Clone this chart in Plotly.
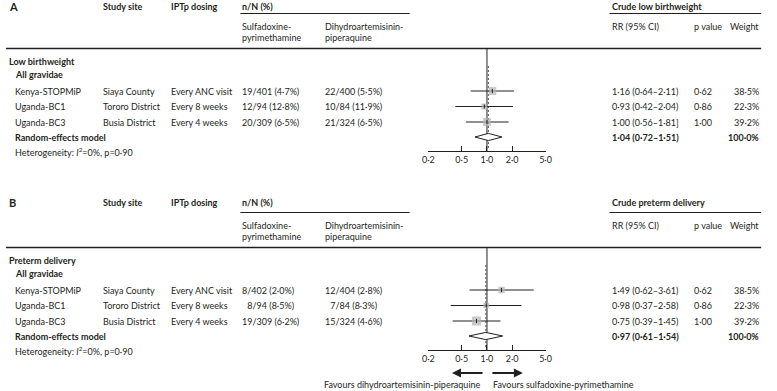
import math
import plotly.graph_objects as go

W, H = 777, 391
FONT = "Lato"
TC = "#231f20"

# ---------------- data ----------------
studies = ["Kenya-STOPMiP", "Uganda-BC1", "Uganda-BC3"]
sites = ["Siaya County", "Tororo District", "Busia District"]
dosing = ["Every ANC visit", "Every 8 weeks", "Every 4 weeks"]

# Panel A: crude low birthweight
lbw_sp = ["19/401 (4·7%)", "12/94 (12·8%)", "20/309 (6·5%)"]
lbw_dp = ["22/400 (5·5%)", "10/84 (11·9%)", "21/324 (6·5%)"]
lbw_rr = [1.16, 0.93, 1.00]
lbw_lo = [0.64, 0.42, 0.56]
lbw_hi = [2.11, 2.04, 1.81]
lbw_rr_txt = ["1·16 (0·64–2·11)", "0·93 (0·42–2·04)", "1·00 (0·56–1·81]"]
lbw_p = ["0·62", "0·86", "1·00"]
lbw_w = [38.5, 22.3, 39.2]
lbw_pool = [1.04, 0.72, 1.51]
lbw_pool_txt = "1·04 (0·72–1·51)"

# Panel B: crude preterm delivery
ptd_sp = ["8/402 (2·0%)", "\u20078/94 (8·5%)", "19/309 (6·2%)"]
ptd_dp = ["12/404 (2·8%)", "\u20077/84 (8·3%)", "15/324 (4·6%)"]
ptd_rr = [1.49, 0.98, 0.75]
ptd_lo = [0.62, 0.37, 0.39]
ptd_hi = [3.61, 2.58, 1.45]
ptd_rr_txt = ["1·49 (0·62–3·61)", "0·98 (0·37–2·58)", "0·75 (0·39–1·45)"]
ptd_p = ["0·62", "0·86", "1·00"]
ptd_w = [38.5, 22.3, 39.2]
ptd_w_drawn = [26, 21, 53]   # box sizes as drawn in the picture
ptd_pool = [0.97, 0.61, 1.54]
ptd_pool_txt = "0·97 (0·61–1·54)"

tick_vals = [0.2, 0.5, 1.0, 2.0, 5.0]
tick_text = ["0·2", "0·5", "1·0", "2·0", "5·0"]

# ---------------- layout helpers ----------------
ann = []
shapes = []


def txt(x, y, s, anchor="left", bold=False, size=9, color=TC):
    ann.append(dict(x=x / W, y=y, xref="paper", yref="y",
                    text=f"<b>{s}</b>" if bold else s, showarrow=False,
                    xanchor=anchor, yanchor="middle",
                    font=dict(size=size, family=FONT, color=color)))


def hline(x0, x1, y, w=1.0):
    shapes.append(dict(type="line", xref="paper", yref="y", x0=x0 / W, x1=x1 / W,
                       y0=y, y1=y, line=dict(color=TC, width=w)))


col = dict(lab=1, study=7, site=96, dose=166, sp=238, dp=322, rr=613, p=697, w=767)
ROWS = [91, 106.5, 122]

fig = go.Figure()


def panel(off, hdr_y, label, crude_hdr, section, sp, dp, rr, lo, hi, rr_txt, p_txt, wts,
          box_w, pool, pool_txt, xa):
    Y = lambda v: v + off
    # headers
    txt(col["lab"], hdr_y, label, bold=True, size=11)
    txt(col["site"], hdr_y, "Study site", bold=True)
    txt(col["dose"], hdr_y, "IPTp dosing", bold=True)
    txt(col["sp"], hdr_y, "n/N (%)", bold=True)
    txt(col["rr"], hdr_y, crude_hdr, bold=True)
    hline(238, 410, Y(13.5), 1)
    hline(613, 767, Y(13.5), 1)
    txt(col["sp"], Y(26), "Sulfadoxine-")
    txt(col["sp"], Y(37.5), "pyrimethamine")
    txt(col["dp"], Y(26), "Dihydroartemisinin-")
    txt(col["dp"], Y(37.5), "piperaquine")
    txt(col["rr"], Y(26), "RR (95% CI)")
    txt(col["p"], Y(26), "p value")
    txt(col["w"], Y(26), "Weight", anchor="right")
    hline(0, 767, Y(48.5), 1.4)
    txt(col["lab"], Y(61), section, bold=True)
    txt(col["study"], Y(74), "All gravidae", bold=True)
    for i in range(3):
        ry = Y(ROWS[i])
        txt(col["study"], ry, studies[i])
        txt(col["site"], ry, sites[i])
        txt(col["dose"], ry, dosing[i])
        txt(col["sp"], ry, sp[i])
        txt(col["dp"], ry, dp[i])
        txt(col["rr"], ry, rr_txt[i])
        txt(col["p"], ry, p_txt[i])
        txt(col["w"], ry, f"{wts[i]:.1f}%".replace(".", "·"), anchor="right")
    txt(col["study"], Y(137), "Random-effects model", bold=True)
    txt(col["rr"], Y(137), pool_txt, bold=True)
    txt(col["w"], Y(137), "100·0%", anchor="right", bold=True)
    txt(col["study"], Y(152), "Heterogeneity: <i>I</i><sup>2</sup>=0%, p=0·90")

    # forest
    fig.add_trace(go.Scatter(x=[1, 1], y=[Y(48.5), Y(151)], mode="lines",
                             line=dict(color=TC, width=1), xaxis=xa, hoverinfo="skip"))
    fig.add_trace(go.Scatter(x=[pool[0], pool[0]], y=[Y(66), Y(149)], mode="lines",
                             line=dict(color="#555555", width=1, dash="2px,2px"),
                             xaxis=xa, hoverinfo="skip"))
    cx, cy = [], []
    for i in range(3):
        cx += [lo[i], hi[i], None]
        cy += [Y(ROWS[i]), Y(ROWS[i]), None]
    fig.add_trace(go.Scatter(x=cx, y=cy, mode="lines", line=dict(color=TC, width=1),
                             xaxis=xa, hoverinfo="skip"))
    fig.add_trace(go.Scatter(x=rr, y=[Y(r) for r in ROWS], mode="markers",
                             marker=dict(symbol="square", color="#b3b3b3",
                                         size=[1.25 * math.sqrt(w) for w in box_w],
                                         line=dict(width=0)),
                             xaxis=xa, hoverinfo="skip"))
    fig.add_trace(go.Scatter(x=rr, y=[Y(r) for r in ROWS], mode="markers",
                             marker=dict(symbol="line-ns", size=3, color=TC,
                                         line=dict(color=TC, width=1)),
                             xaxis=xa, hoverinfo="skip"))
    dy = 3.6
    fig.add_trace(go.Scatter(x=[pool[1], pool[0], pool[2], pool[0], pool[1]],
                             y=[Y(137), Y(137) - dy, Y(137), Y(137) + dy, Y(137)],
                             mode="lines", fill="toself", fillcolor="white",
                             line=dict(color=TC, width=1), xaxis=xa, hoverinfo="skip"))


panel(0, 6, "A", "Crude low birthweight", "Low birthweight", lbw_sp, lbw_dp, lbw_rr, lbw_lo,
      lbw_hi, lbw_rr_txt, lbw_p, lbw_w, lbw_w, lbw_pool, lbw_pool_txt, "x")
panel(199, 202, "B", "Crude preterm delivery", "Preterm delivery", ptd_sp, ptd_dp, ptd_rr,
      ptd_lo, ptd_hi, ptd_rr_txt, ptd_p, ptd_w, ptd_w_drawn, ptd_pool, ptd_pool_txt, "x2")

# favours arrows & text
AY = 373
ann.append(dict(x=453 / W, y=AY, xref="paper", yref="y", ax=32, ay=0, text="",
                showarrow=True, arrowhead=2, arrowsize=1, arrowwidth=1.8, arrowcolor=TC))
ann.append(dict(x=525 / W, y=AY, xref="paper", yref="y", ax=-32, ay=0, text="",
                showarrow=True, arrowhead=2, arrowsize=1, arrowwidth=1.8, arrowcolor=TC))
txt(484, 384, "Favours dihydroartemisinin-piperaquine", anchor="right")
txt(493, 384, "Favours sulfadoxine-pyrimethamine")

axis_common = dict(type="log", range=[math.log10(0.2), math.log10(5)],
                   domain=[429 / W, 548 / W], showgrid=False, zeroline=False,
                   showline=True, linecolor=TC, linewidth=1, ticks="inside", ticklen=5,
                   tickwidth=1, tickcolor=TC, tickvals=tick_vals, ticktext=tick_text,
                   tickfont=dict(size=9, family=FONT, color=TC), anchor="free",
                   fixedrange=True)

fig.update_layout(
    width=W, height=H, margin=dict(l=0, r=0, t=0, b=0),
    paper_bgcolor="white", plot_bgcolor="rgba(0,0,0,0)", showlegend=False,
    xaxis=dict(**axis_common, position=1 - 151 / H),
    xaxis2=dict(**axis_common, position=1 - 350 / H, overlaying="x"),
    yaxis=dict(range=[H, 0], domain=[0, 1], visible=False, fixedrange=True),
    annotations=ann, shapes=shapes,
)

fig.write_html(
    "out.html",
    config={"displayModeBar": False, "staticPlot": True},
    post_script="document.body.style.margin='0';"
                "document.documentElement.style.overflow='hidden';",
)
